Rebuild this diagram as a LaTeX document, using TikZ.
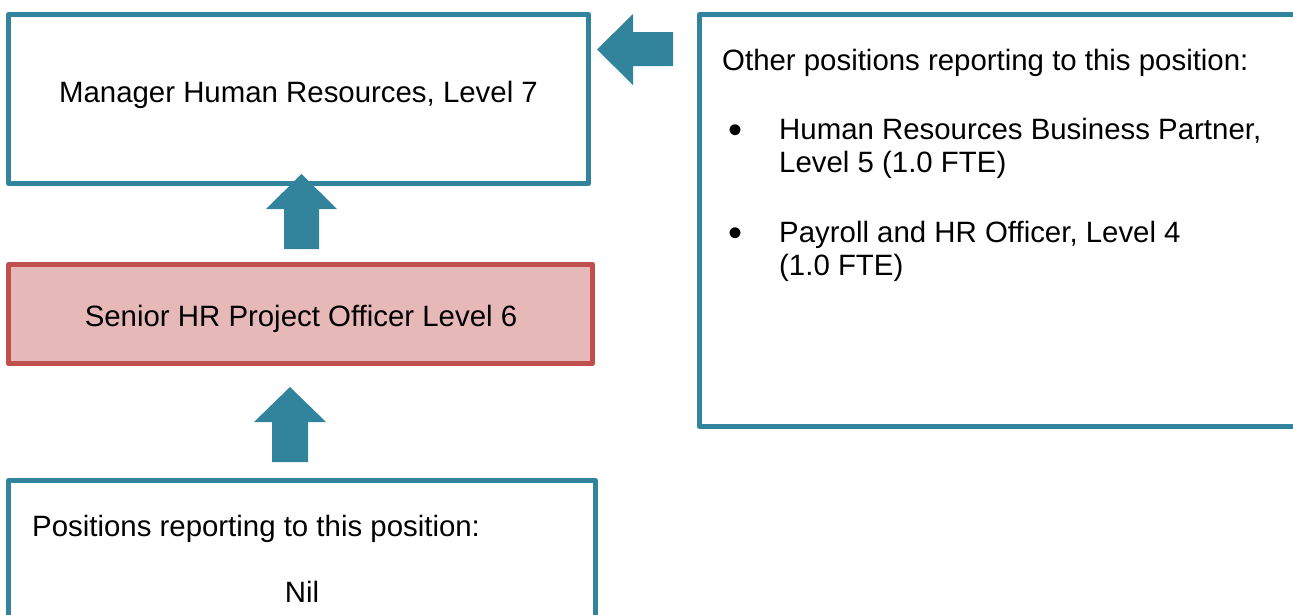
\documentclass[tikz,border=0pt]{standalone}
\usepackage{fontspec}
\setmainfont{Liberation Sans}
\definecolor{teal}{RGB}{49,132,155}
\definecolor{redline}{RGB}{192,80,77}
\definecolor{redfill}{RGB}{230,184,183}
\begin{document}
\begin{tikzpicture}[x=1pt,y=-1pt,
  box/.style={draw=teal, line width=5pt, line join=round, inner sep=0pt, fill=white},
  hibox/.style={draw=redline, fill=redfill, line width=5pt, line join=round, inner sep=0pt},
  txt/.style={inner sep=0pt, font=\fontsize{29.4}{33}\selectfont},
  bullet/.style={inner sep=0pt, font=\fontsize{40}{40}\selectfont},
  blockarrow/.style={fill=teal, draw=none}]
\useasboundingbox (0,0) rectangle (1293,614);
\clip (0,0) rectangle (1293,614);
\fill[white] (0,0) rectangle (1293,614);
% boxes
\node[box, minimum width=580pt, minimum height=169pt] (mgr) at (298.5,99) {};
\node[hibox, minimum width=584pt, minimum height=99pt] (self) at (300.5,314) {};
\node[box, minimum width=587pt, minimum height=180pt] (sub) at (302,570.5) {};
\node[box, minimum width=621pt, minimum height=412pt] (other) at (1010,220.5) {};
% texts
\node[txt, anchor=base] (t1) at (298.5,102) {Manager Human Resources, Level 7};
\node[txt, anchor=base] (t2) at (301,326) {Senior HR Project Officer Level 6};
\node[txt, anchor=base west] (t3) at (32,536) {Positions reporting to this position:};
\node[txt, anchor=base] (t4) at (302,602) {Nil};
\node[txt, anchor=base west] (t5) at (722,70) {Other positions reporting to this position:};
\node[bullet, anchor=base west] (b1) at (728,143) {•};
\node[txt, anchor=base west] (t6) at (779,139) {Human Resources Business Partner,};
\node[txt, anchor=base west] (t7) at (779,172) {Level 5 (1.0 FTE)};
\node[bullet, anchor=base west] (b2) at (728,246) {•};
\node[txt, anchor=base west] (t8) at (779,242) {Payroll and HR Officer, Level 4};
\node[txt, anchor=base west] (t9) at (779,275) {(1.0 FTE)};
% block arrows
\fill[blockarrow] (284,249) -- (284,209) -- (266,209) -- (301.5,174) -- (337,209) -- (319,209) -- (319,249) -- cycle;
\fill[blockarrow] (272,462) -- (272,422) -- (254,422) -- (290,387) -- (326,422) -- (308,422) -- (308,462) -- cycle;
\fill[blockarrow] (673,32) -- (633,32) -- (633,14) -- (597,49.5) -- (633,85) -- (633,66) -- (673,66) -- cycle;
\end{tikzpicture}
\end{document}
